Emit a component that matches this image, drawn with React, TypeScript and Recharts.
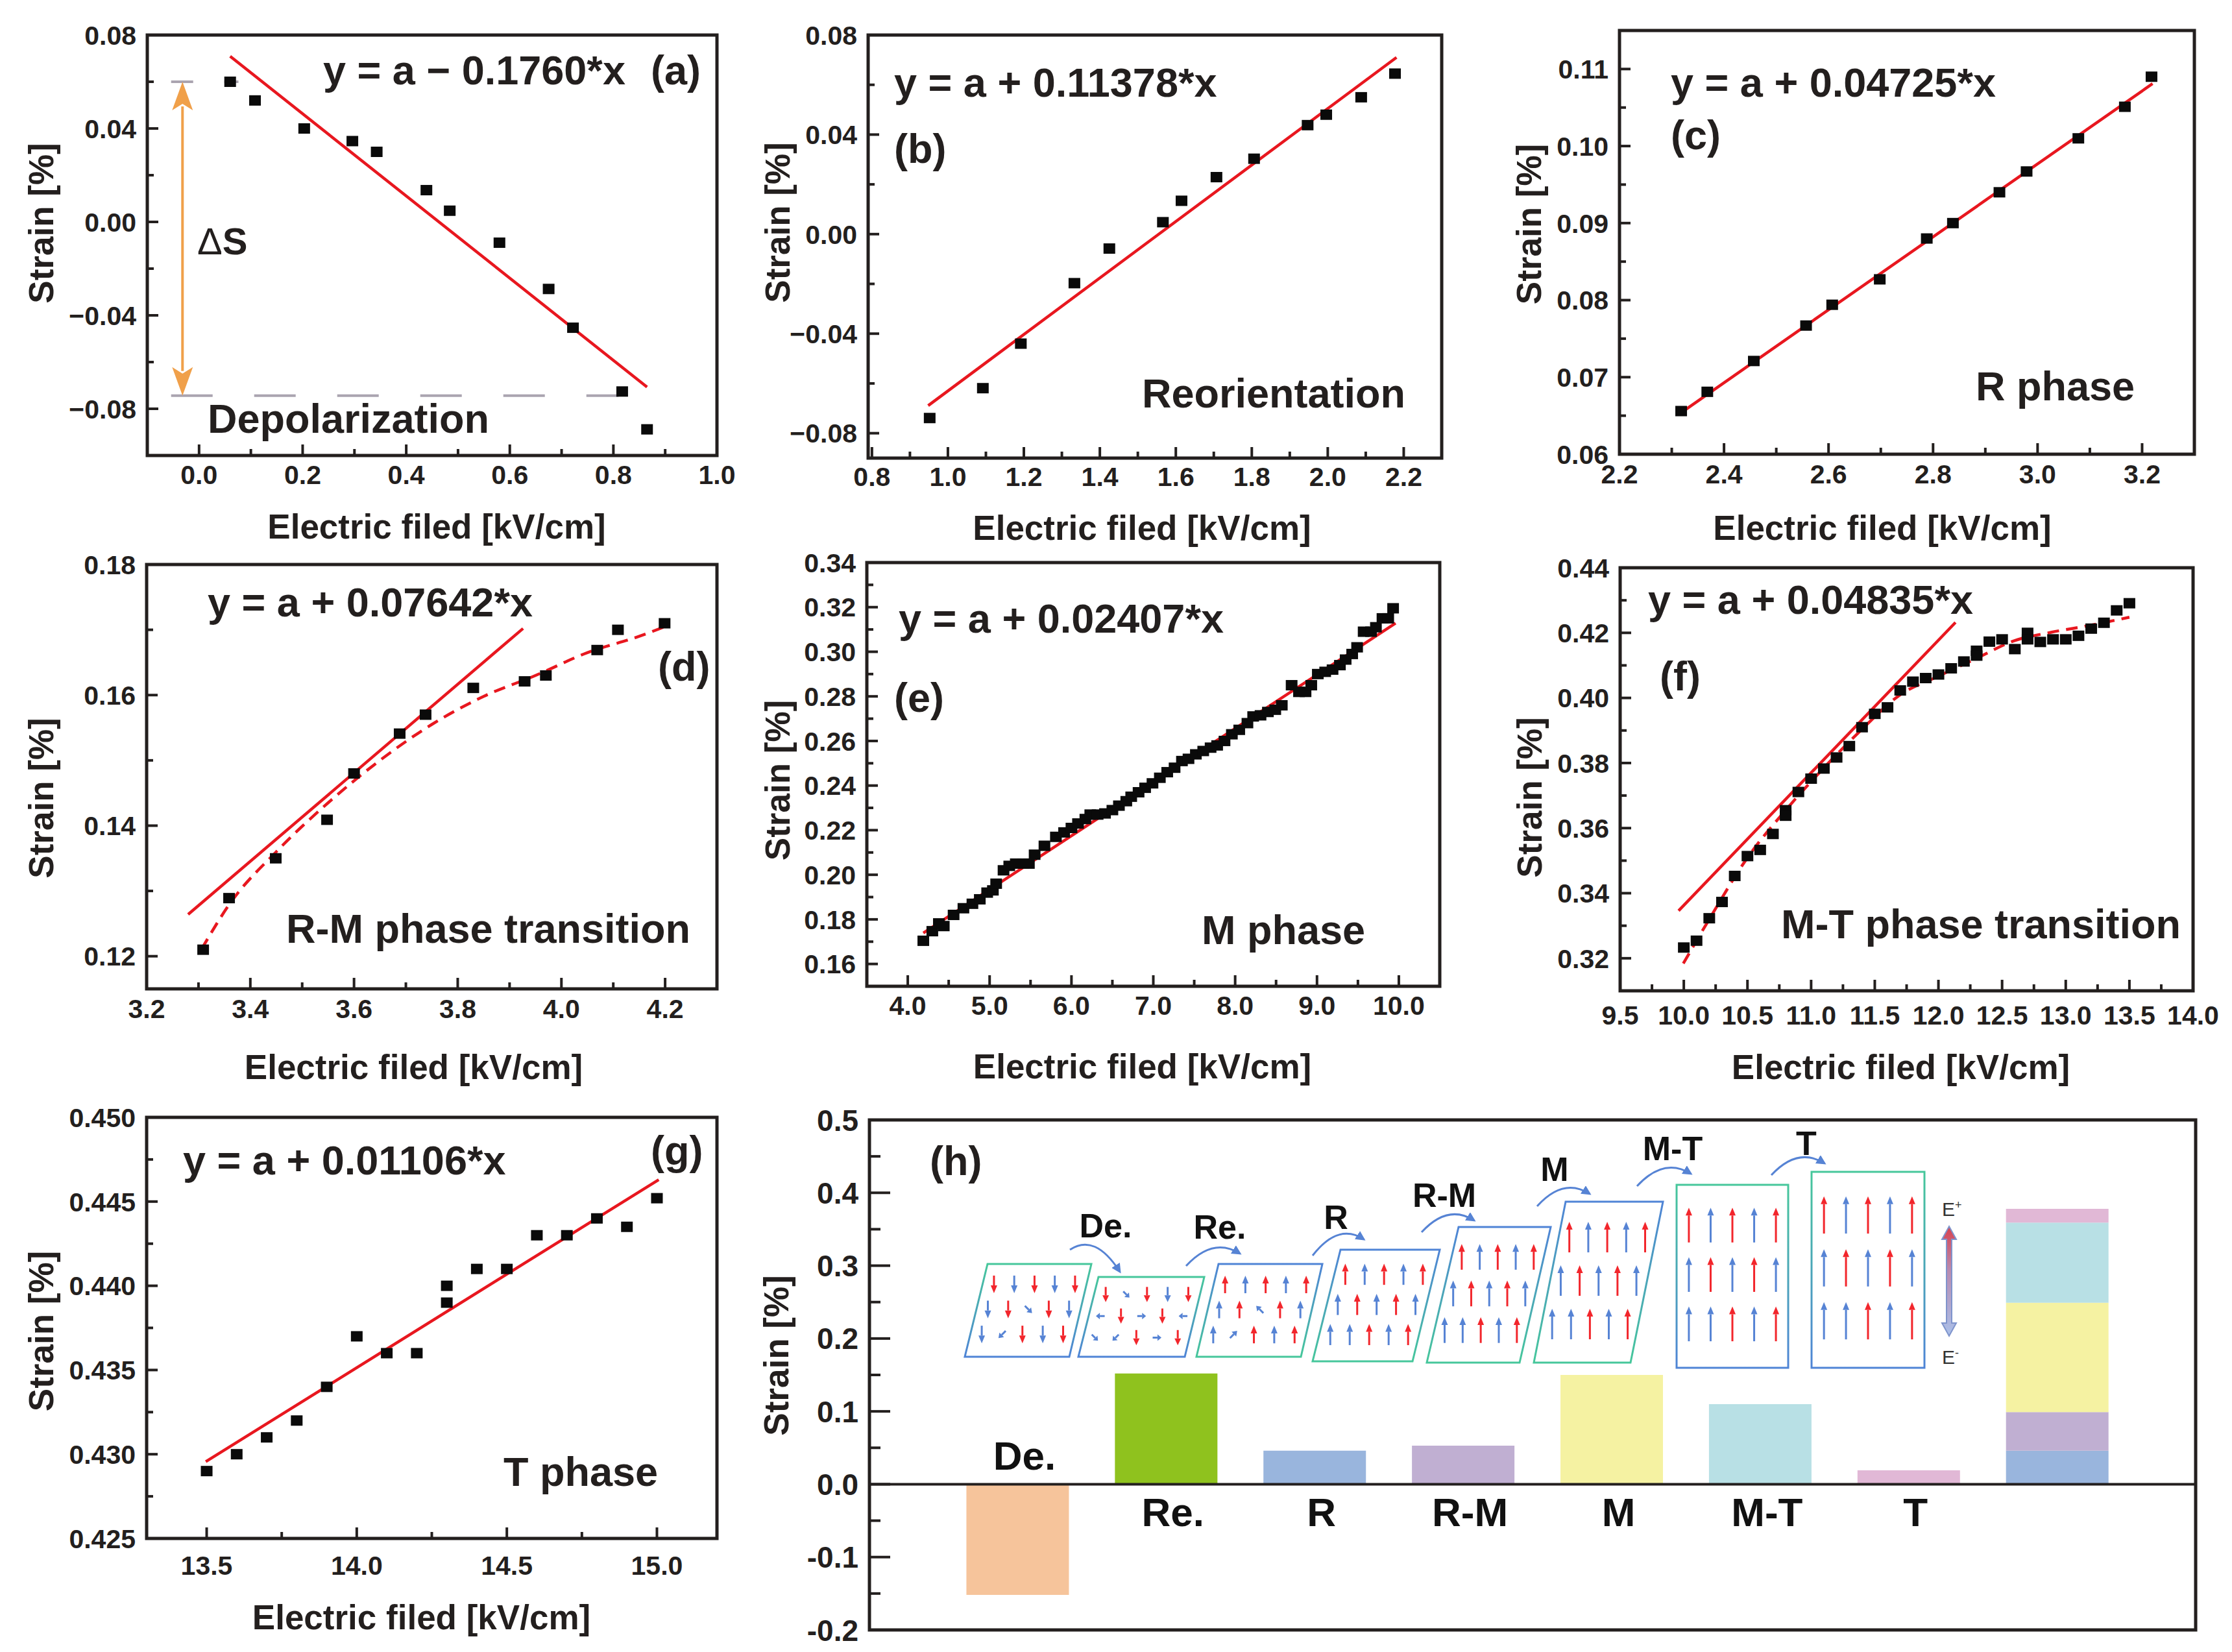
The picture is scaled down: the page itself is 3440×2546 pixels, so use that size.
import React from 'react';
import {
  ComposedChart, Scatter, Line, Bar, XAxis, YAxis,
  ReferenceArea, ReferenceLine, ReferenceDot,
} from 'recharts';

const FONT = '"Liberation Sans", Arial, Helvetica, sans-serif';
const INK = '#231f1e';
const RED = '#e8171f';
const ORANGE = '#f0a04a';
const GUIDE = '#aaa4b0';
const A_RED = '#f2262c';
const A_BLUE = '#5683d4';

// ---------- (a) depolarization ----------
const aField = [0.06, 0.108, 0.203, 0.296, 0.343, 0.439, 0.484, 0.58, 0.675, 0.722, 0.817, 0.865];
const aStrain = [0.06, 0.052, 0.04, 0.0346, 0.03, 0.0136, 0.0048, -0.0089, -0.0287, -0.0453, -0.0726, -0.0888];
const aFitField = [0.06, 0.865];
const aFitStrain = [0.0709, -0.0707];
const aLevels = [0.06, -0.0744]; // strain before / after depolarization
const aLevelEnds = [0.076, 0.81];
const aGuideStart = -0.054;
const aArrowField = -0.032;

// ---------- (b) reorientation ----------
const bField = [0.952, 1.092, 1.192, 1.333, 1.425, 1.566, 1.615, 1.707, 1.806, 1.947, 1.996, 2.088, 2.177];
const bStrain = [-0.0739, -0.0619, -0.044, -0.0197, -0.0058, 0.0048, 0.0134, 0.0229, 0.0303, 0.0438, 0.048, 0.055, 0.0645];
const bFitField = [0.948, 2.181];
const bFitStrain = [-0.0689, 0.071];

// ---------- (c) R phase ----------
const cField = [2.318, 2.368, 2.457, 2.557, 2.607, 2.698, 2.788, 2.838, 2.927, 2.979, 3.078, 3.167, 3.218];
const cStrain = [0.0656, 0.0681, 0.0721, 0.0767, 0.0794, 0.0827, 0.088, 0.09, 0.094, 0.0967, 0.101, 0.1051, 0.109];
const cFitField = [2.316, 3.22];
const cFitStrain = [0.0653, 0.1081];

// ---------- (d) R-M transition ----------
const dField = [3.309, 3.359, 3.449, 3.548, 3.6, 3.688, 3.738, 3.83, 3.929, 3.97, 4.069, 4.109, 4.199];
const dStrain = [0.121, 0.1289, 0.135, 0.1409, 0.148, 0.1541, 0.157, 0.1611, 0.1621, 0.163, 0.1669, 0.17, 0.171];
const dFitField = [3.28, 3.926];
const dFitStrain = [0.1264, 0.1702];
const dTrendField = [3.306, 3.36, 3.45, 3.55, 3.65, 3.75, 3.85, 3.95, 4.05, 4.15, 4.2];
const dTrendStrain = [0.1211, 0.128, 0.136, 0.1435, 0.15, 0.1555, 0.1598, 0.163, 0.1665, 0.169, 0.1705];

// ---------- (e) M phase ----------
const eField = [4.19, 4.3, 4.38, 4.44, 4.56, 4.68, 4.79, 4.88, 4.97, 5.04, 5.08, 5.17, 5.24, 5.32, 5.41, 5.48, 5.55, 5.67,
  5.81, 5.91, 6.0, 6.08, 6.17, 6.23, 6.32, 6.41, 6.5, 6.58, 6.67, 6.73, 6.82, 6.9, 6.99, 7.08, 7.17, 7.26, 7.35, 7.43,
  7.52, 7.61, 7.7, 7.78, 7.87, 7.96, 8.05, 8.15, 8.22, 8.31, 8.4, 8.49, 8.57, 8.69, 8.78, 8.86, 8.93, 9.01, 9.1, 9.19,
  9.28, 9.35, 9.43, 9.49, 9.57, 9.66, 9.72, 9.8, 9.87, 9.93];
const eStrain = [0.1704, 0.1747, 0.1782, 0.177, 0.182, 0.185, 0.187, 0.189, 0.192, 0.193, 0.196, 0.202, 0.204, 0.205,
  0.205, 0.205, 0.209, 0.213, 0.217, 0.219, 0.221, 0.223, 0.225, 0.227, 0.227, 0.2275, 0.229, 0.231, 0.233, 0.235,
  0.237, 0.239, 0.241, 0.2435, 0.246, 0.248, 0.251, 0.252, 0.254, 0.2555, 0.257, 0.258, 0.26, 0.263, 0.265, 0.268,
  0.271, 0.2715, 0.273, 0.274, 0.276, 0.285, 0.282, 0.282, 0.285, 0.29, 0.291, 0.292, 0.294, 0.2965, 0.299, 0.302,
  0.309, 0.309, 0.311, 0.315, 0.315, 0.3195];
const eFitField = [4.19, 9.96];
const eFitStrain = [0.1739, 0.3128];

// ---------- (f) M-T transition ----------
const fField = [10.0, 10.1, 10.2, 10.3, 10.4, 10.5, 10.6, 10.7, 10.8, 10.8, 10.9, 11.0, 11.1, 11.2, 11.3, 11.4, 11.5,
  11.6, 11.7, 11.8, 11.9, 12.0, 12.1, 12.2, 12.3, 12.3, 12.4, 12.5, 12.6, 12.7, 12.7, 12.8, 12.9, 13.0, 13.1, 13.2,
  13.3, 13.4, 13.5];
const fStrain = [0.3233, 0.3254, 0.3323, 0.3373, 0.3453, 0.3514, 0.3533, 0.3582, 0.3655, 0.3638, 0.3711, 0.3752,
  0.3783, 0.3817, 0.3852, 0.391, 0.3951, 0.3971, 0.4023, 0.405, 0.4061, 0.4072, 0.4091, 0.4112, 0.4145, 0.413, 0.4173,
  0.418, 0.415, 0.42, 0.418, 0.4172, 0.418, 0.418, 0.4191, 0.4213, 0.4231, 0.4269, 0.4291];
const fFitField = [9.959, 12.134];
const fFitStrain = [0.3346, 0.4232];
const fTrendField = [9.996, 10.2, 10.5, 10.8, 11.1, 11.4, 11.69, 12.0, 12.29, 12.59, 12.89, 13.19, 13.5];
const fTrendStrain = [0.3184, 0.332, 0.3509, 0.3655, 0.3785, 0.3904, 0.4007, 0.4067, 0.412, 0.4175, 0.4202, 0.4223, 0.4248];

// ---------- (g) T phase ----------
const gField = [13.5, 13.6, 13.7, 13.8, 13.9, 14.0, 14.1, 14.2, 14.3, 14.3, 14.4, 14.5, 14.6, 14.7, 14.8, 14.9, 15.0];
const gStrain = [0.429, 0.43, 0.431, 0.432, 0.434, 0.437, 0.436, 0.436, 0.44, 0.439, 0.441, 0.441, 0.443, 0.443, 0.444, 0.4435, 0.4452];
const gFitField = [13.497, 15.006];
const gFitStrain = [0.42956, 0.4463];

// ---------- (h) strain contributions ----------
const hPhases = ['De.', 'Re.', 'R', 'R-M', 'M', 'M-T', 'T'];
const hStrain = [-0.152, 0.152, 0.046, 0.053, 0.15, 0.11, 0.019];
const hColors = ['#f6c49b', '#8fc21e', '#99b5dd', '#c0afd2', '#f5f2a2', '#b8e0e5', '#e1b8d6'];
const hSummed = [2, 3, 4, 5, 6]; // phases stacked in the last column
const hYMajor = [-0.2, -0.1, 0, 0.1, 0.2, 0.3, 0.4, 0.5];
const hYMinor = [-0.15, -0.05, 0.05, 0.15, 0.25, 0.35, 0.45];

const zip = (xs: number[], ys: number[]) => xs.map((x, i) => ({ x, y: ys[i] }));

const YW = 200, XH = 170, MT = 50, MR = 70, MB = 10, ML = 10;

const fmt = (v: number, digits: number, minus = '\u2212') => (v < 0 ? minus : '') + Math.abs(v).toFixed(digits);
const isIn = (list: number[], v: number) => list.some((m) => Math.abs(m - v) < 1e-9);

function xTick(major: number[], digits: number, gap: number) {
  return (t: any) => {
    const v = t.payload.value;
    const big = isIn(major, v);
    return (
      <g>
        <line x1={t.x} x2={t.x} y1={t.y} y2={t.y - (big ? 17 : 10)} stroke={INK} strokeWidth={4} />
        {big && (
          <text x={t.x} y={t.y + gap} textAnchor="middle" fontFamily={FONT} fontWeight={700} fontSize={41} fill={INK}>
            {fmt(v, digits)}
          </text>
        )}
      </g>
    );
  };
}

function yTick(major: number[], digits: number, size = 41, majLen = 17, minLen = 10, minus = '\u2212') {
  return (t: any) => {
    const v = t.payload.value;
    const big = isIn(major, v);
    return (
      <g>
        <line x1={t.x} x2={t.x + (big ? majLen : minLen)} y1={t.y} y2={t.y} stroke={INK} strokeWidth={4} />
        {big && (
          <text x={t.x - 17} y={t.y + size * 0.36} textAnchor="end" fontFamily={FONT} fontWeight={700} fontSize={size} fill={INK}>
            {fmt(v, digits, minus)}
          </text>
        )}
      </g>
    );
  };
}

const xTitle = (dx: number, base: number) => (l: any) => {
  const vb = l.viewBox;
  return (
    <text x={vb.x + vb.width / 2 + dx} y={vb.y + base} textAnchor="middle" fontFamily={FONT} fontWeight={700} fontSize={53} fill={INK}>
      Electric filed [kV/cm]
    </text>
  );
};

const yTitle = (left: number, dy: number) => (l: any) => {
  const vb = l.viewBox;
  const cx = vb.x + vb.width - left;
  const cy = vb.y + vb.height / 2 + dy;
  return (
    <text x={cx} y={cy} dy={19} transform={`rotate(-90 ${cx} ${cy})`} textAnchor="middle" fontFamily={FONT} fontWeight={700} fontSize={53} fill={INK}>
      Strain [%]
    </text>
  );
};

const square = (p: any) => <rect x={p.cx - 9} y={p.cy - 8} width={18} height={16} fill="#0a0a0a" />;

type Box = { x0: number; y0: number; x1: number; y1: number };
type XY = { x: number; y: number };

interface PanelProps {
  box: Box;
  xDomain: [number, number]; xMajor: number[]; xMinor: number[]; xDigits: number;
  yDomain: [number, number]; yMajor: number[]; yMinor: number[]; yDigits: number;
  points: XY[]; fit: XY[]; trend?: XY[];
  xGap: number; xBase: number; xDx: number; yLeft: number; yDy: number;
  children?: React.ReactNode;
}

function Panel(p: PanelProps) {
  const w = p.box.x1 - p.box.x0;
  const h = p.box.y1 - p.box.y0;
  const W = ML + YW + w + MR;
  const H = MT + h + XH + MB;
  const xt = [...p.xMajor, ...p.xMinor].sort((a, b) => a - b);
  const yt = [...p.yMajor, ...p.yMinor].sort((a, b) => a - b);
  return (
    <div style={{ position: 'absolute', left: p.box.x0 - YW - ML, top: p.box.y0 - MT, width: W, height: H }}>
      <ComposedChart width={W} height={H} margin={{ top: MT, right: MR, bottom: MB, left: ML }}>
        <XAxis type="number" dataKey="x" domain={p.xDomain} allowDataOverflow ticks={xt} interval={0}
          tickSize={0} tickMargin={0} tickLine={false} axisLine={false} height={XH}
          tick={xTick(p.xMajor, p.xDigits, p.xGap)} label={xTitle(p.xDx, p.xBase)} />
        <YAxis type="number" domain={p.yDomain} allowDataOverflow ticks={yt} interval={0}
          tickSize={0} tickMargin={0} tickLine={false} axisLine={false} width={YW}
          tick={yTick(p.yMajor, p.yDigits)} label={yTitle(p.yLeft, p.yDy)} />
        {p.children}
        <Line data={p.fit} dataKey="y" type="linear" stroke={RED} strokeWidth={4.5} dot={false} isAnimationActive={false} />
        {p.trend && (
          <Line data={p.trend} dataKey="y" type="monotone" stroke={RED} strokeWidth={4.5} strokeDasharray="18 11"
            dot={false} isAnimationActive={false} />
        )}
        <Scatter data={p.points} dataKey="y" shape={square} isAnimationActive={false} />
        <ReferenceArea x1={p.xDomain[0]} x2={p.xDomain[1]} y1={p.yDomain[0]} y2={p.yDomain[1]}
          fill="none" stroke={INK} strokeWidth={5} ifOverflow="visible" />
      </ComposedChart>
    </div>
  );
}

const deltaArrow = (l: any) => {
  const x = l.x1;
  const top = Math.min(l.y1, l.y2);
  const bot = Math.max(l.y1, l.y2);
  const hl = 44, hw = 16;
  return (
    <g>
      <line x1={x} x2={x} y1={top + hl - 6} y2={bot - hl + 6} stroke={ORANGE} strokeWidth={4} />
      <polygon points={`${x},${top} ${x - hw},${top + hl} ${x},${top + hl - 10} ${x + hw},${top + hl}`} fill={ORANGE} />
      <polygon points={`${x},${bot} ${x - hw},${bot - hl} ${x},${bot - hl + 10} ${x + hw},${bot - hl}`} fill={ORANGE} />
    </g>
  );
};

const barName = (name: string) => (l: any) => (
  <text x={l.viewBox.x + 10} y={l.viewBox.y + 22} textAnchor="middle" fontFamily={FONT} fontWeight={700} fontSize={62} fill="#111">
    {name}
  </text>
);

function PanelH() {
  const box = { x0: 1340, y0: 1726, x1: 3384, y1: 2512 };
  const w = box.x1 - box.x0, h = box.y1 - box.y0;
  const W = ML + YW + w + 40, H = MT + h + 30;
  const rows = [
    ...hPhases.map((_, i) => {
      const r: Record<string, number> = { pos: i + 1 };
      hPhases.forEach((__, k) => { r['p' + k] = k === i ? hStrain[k] : 0; });
      return r;
    }),
    (() => {
      const r: Record<string, number> = { pos: 8 };
      hPhases.forEach((__, k) => { r['p' + k] = hSummed.includes(k) ? hStrain[k] : 0; });
      return r;
    })(),
  ];
  const stackOrder = [...hSummed, 0, 1];
  const yt = [...hYMajor, ...hYMinor].sort((a, b) => a - b);
  return (
    <div style={{ position: 'absolute', left: box.x0 - YW - ML, top: box.y0 - MT, width: W, height: H }}>
      <ComposedChart width={W} height={H} data={rows} margin={{ top: MT, right: 40, bottom: 30, left: ML }}>
        <XAxis type="number" dataKey="pos" domain={[0, 8.93]} allowDataOverflow hide />
        <YAxis type="number" domain={[-0.2, 0.5]} allowDataOverflow ticks={yt} interval={0}
          tickSize={0} tickMargin={0} tickLine={false} axisLine={false} width={YW}
          tick={yTick(hYMajor, 1, 46, 32, 17, '-')} label={yTitle(144, -30)} />
        {stackOrder.map((k) => (
          <Bar key={k} dataKey={'p' + k} stackId="s" fill={hColors[k]} barSize={158} isAnimationActive={false} />
        ))}
        <ReferenceLine y={0} stroke={INK} strokeWidth={4} />
        {hPhases.map((name, i) => (
          <ReferenceDot key={name} x={i + 1} y={hStrain[i] < 0 ? 0.04 : -0.038} r={0} fill="none" stroke="none"
            label={barName(name)} />
        ))}
        <ReferenceArea x1={0} x2={8.93} y1={-0.2} y2={0.5} fill="none" stroke={INK} strokeWidth={5} ifOverflow="visible" />
      </ComposedChart>
    </div>
  );
}

// ---------- texts written on the panels (page coordinates) ----------
const notes: { t: string; x: number; y: number }[] = [
  { t: 'y = a \u2212 0.1760*x', x: 498, y: 130 }, { t: '(a)', x: 1003, y: 130 },
  { t: 'Depolarization', x: 320, y: 667 },
  { t: 'y = a + 0.11378*x', x: 1378, y: 149 }, { t: '(b)', x: 1378, y: 251 },
  { t: 'Reorientation', x: 1760, y: 628 },
  { t: 'y = a + 0.04725*x', x: 2575, y: 149 }, { t: '(c)', x: 2575, y: 230 },
  { t: 'R phase', x: 3045, y: 617 },
  { t: 'y = a + 0.07642*x', x: 320, y: 950 }, { t: '(d)', x: 1014, y: 1049 },
  { t: 'R-M phase transition', x: 441, y: 1453 },
  { t: 'y = a + 0.02407*x', x: 1385, y: 975 }, { t: '(e)', x: 1378, y: 1097 },
  { t: 'M phase', x: 1852, y: 1455 },
  { t: 'y = a + 0.04835*x', x: 2540, y: 946 }, { t: '(f)', x: 2558, y: 1064 },
  { t: 'M-T phase transition', x: 2745, y: 1446 },
  { t: 'y = a + 0.01106*x', x: 282, y: 1810 }, { t: '(g)', x: 1003, y: 1795 },
  { t: 'T phase', x: 776, y: 2290 },
  { t: '(h)', x: 1433, y: 1811 },
];

// ---------- (h) domain sketch ----------
type Pt = [number, number];
const upRows = ['Ru Bu Ru Bu Ru', 'Bu Ru Bu Ru Bu', 'Bu Bu Ru Bu Ru'];
const cells: { tl: Pt; tr: Pt; bl: Pt; br: Pt; grad: string; rows: string[] }[] = [
  { tl: [1522, 1948], tr: [1682, 1948], bl: [1487, 2091], br: [1648, 2091], grad: 'gGB', rows: ['Rd Bd Rd Bd Rd', 'Bd Rd Bdr Rd Bd', 'Bd Bdl Rd Bd Rd'] },
  { tl: [1693, 1968], tr: [1856, 1968], bl: [1662, 2091], br: [1826, 2091], grad: 'gGB', rows: ['Rd Bdr Rd Bd Rd', 'Bl Rd Br Rd Bl', 'Bdr Bdl Rd Br Rd'] },
  { tl: [1878, 1948], tr: [2038, 1948], bl: [1844, 2091], br: [2005, 2091], grad: 'gBG', rows: ['Ru Bu Ru Bu Ru', 'Bu Ru Bul Ru Bu', 'Bu Bur Ru Bu Ru'] },
  { tl: [2066, 1926], tr: [2219, 1926], bl: [2023, 2098], br: [2177, 2098], grad: 'gBG', rows: upRows },
  { tl: [2248, 1891], tr: [2390, 1891], bl: [2199, 2100], br: [2342, 2100], grad: 'gBG', rows: upRows },
  { tl: [2413, 1852], tr: [2563, 1852], bl: [2364, 2100], br: [2513, 2100], grad: 'gBG', rows: upRows },
  { tl: [2584, 1826], tr: [2756, 1826], bl: [2584, 2108], br: [2756, 2108], grad: 'gGB', rows: upRows },
  { tl: [2792, 1806], tr: [2966, 1806], bl: [2792, 2108], br: [2966, 2108], grad: 'gGB', rows: upRows },
];
const ANG: Record<string, number> = { u: 0, ur: 45, r: 90, dr: 135, d: 180, dl: 225, l: 270, ul: 315 };
const COLS = [0.11, 0.305, 0.5, 0.695, 0.89];
const ROWS = [0.22, 0.49, 0.76];
const hops: [Pt, Pt][] = [
  [[1649, 1926], [1726, 1960]], [[1828, 1951], [1911, 1932]], [[2023, 1935], [2102, 1910]],
  [[2191, 1899], [2272, 1881]], [[2369, 1859], [2450, 1840]], [[2523, 1828], [2606, 1809]],
  [[2730, 1811], [2812, 1793]],
];
const hopLabels: { t: string; x: number; y: number }[] = [
  { t: 'De.', x: 1704, y: 1907 }, { t: 'Re.', x: 1880, y: 1909 }, { t: 'R', x: 2059, y: 1894 },
  { t: 'R-M', x: 2226, y: 1860 }, { t: 'M', x: 2396, y: 1820 }, { t: 'M-T', x: 2578, y: 1788 },
  { t: 'T', x: 2784, y: 1780 },
];

const lerp = (a: Pt, b: Pt, t: number): Pt => [a[0] + (b[0] - a[0]) * t, a[1] + (b[1] - a[1]) * t];

function Dipole({ c, ang, len, color }: { c: Pt; ang: number; len: number; color: string }) {
  const r = (ang * Math.PI) / 180;
  const dx = Math.sin(r), dy = -Math.cos(r);
  const hl = Math.min(12, len * 0.45), hw = 5;
  const tip: Pt = [c[0] + (dx * len) / 2, c[1] + (dy * len) / 2];
  const tail: Pt = [c[0] - (dx * len) / 2, c[1] - (dy * len) / 2];
  const base: Pt = [tip[0] - dx * hl, tip[1] - dy * hl];
  const nx = -dy, ny = dx;
  return (
    <g>
      <line x1={tail[0]} y1={tail[1]} x2={base[0]} y2={base[1]} stroke={color} strokeWidth={3} />
      <polygon points={`${tip[0]},${tip[1]} ${base[0] + nx * hw},${base[1] + ny * hw} ${base[0] - nx * hw},${base[1] - ny * hw}`} fill={color} />
    </g>
  );
}

function Overlay() {
  const ex = 3004, et = 1890, eb = 2059;
  return (
    <svg width={3440} height={2546} style={{ position: 'absolute', left: 0, top: 0, pointerEvents: 'none' }}>
      <defs>
        <linearGradient id="gGB" x1="0" y1="0" x2="0" y2="1">
          <stop offset="0" stopColor="#46c79b" /><stop offset="1" stopColor="#4f84d6" />
        </linearGradient>
        <linearGradient id="gBG" x1="0" y1="0" x2="0" y2="1">
          <stop offset="0" stopColor="#4f84d6" /><stop offset="1" stopColor="#46c79b" />
        </linearGradient>
        <linearGradient id="gE" x1="0" y1="0" x2="0" y2="1">
          <stop offset="0" stopColor="#d9414f" /><stop offset="0.4" stopColor="#b98bb0" /><stop offset="1" stopColor="#a9c0ea" />
        </linearGradient>
        <marker id="hopHead" viewBox="0 0 10 10" refX="8" refY="5" markerWidth="5" markerHeight="5" orient="auto">
          <path d="M0,0 L10,5 L0,10 z" fill={A_BLUE} />
        </marker>
      </defs>

      {notes.map((n) => (
        <text key={n.t + n.x} x={n.x} y={n.y} fontFamily={FONT} fontWeight={700} fontSize={63} fill={INK}>{n.t}</text>
      ))}
      <text x={304} y={392} fontFamily={FONT} fontSize={58} fill={INK}>
        {'\u0394'}<tspan fontWeight={700}>S</tspan>
      </text>

      {cells.map((cell, ci) => {
        const hgt = cell.bl[1] - cell.tl[1];
        return (
          <g key={ci}>
            <polygon points={[cell.tl, cell.tr, cell.br, cell.bl].map((p) => p.join(',')).join(' ')}
              fill="#fff" stroke={`url(#${cell.grad})`} strokeWidth={3} />
            {cell.rows.map((row, ri) => row.split(' ').map((tok, k) => {
              const top = lerp(cell.tl, cell.tr, COLS[k]);
              const bot = lerp(cell.bl, cell.br, COLS[k]);
              const c = lerp(top, bot, ROWS[ri]);
              const dir = tok.slice(1);
              const straight = dir === 'u' || dir === 'd';
              return (
                <Dipole key={`${ri}-${k}`} c={c} ang={ANG[dir]} len={hgt * (straight ? 0.19 : 0.11)}
                  color={tok[0] === 'R' ? A_RED : A_BLUE} />
              );
            }))}
          </g>
        );
      })}

      {hops.map(([s, e], i) => {
        const cx = (s[0] + e[0]) / 2;
        const cy = Math.min(s[1], e[1]) - 26;
        return (
          <path key={i} d={`M${s[0]},${s[1]} Q${cx},${cy} ${e[0]},${e[1]}`} fill="none" stroke={A_BLUE}
            strokeWidth={3} markerEnd="url(#hopHead)" />
        );
      })}
      {hopLabels.map((l) => (
        <text key={l.t} x={l.x} y={l.y} textAnchor="middle" fontFamily={FONT} fontWeight={700} fontSize={52} fill="#111">{l.t}</text>
      ))}

      <polygon
        points={`${ex},${et} ${ex + 11},${et + 20} ${ex + 4},${et + 20} ${ex + 4},${eb - 20} ${ex + 11},${eb - 20} ${ex},${eb} ${ex - 11},${eb - 20} ${ex - 4},${eb - 20} ${ex - 4},${et + 20} ${ex - 11},${et + 20}`}
        fill="url(#gE)" stroke="#7f94cc" strokeWidth={2} />
      <text x={2993} y={1874} fontFamily={FONT} fontSize={30} fill="#333">E<tspan dy={-11} fontSize={18}>+</tspan></text>
      <text x={2993} y={2102} fontFamily={FONT} fontSize={30} fill="#333">E<tspan dy={-11} fontSize={18}>-</tspan></text>
    </svg>
  );
}

export default function App() {
  React.useEffect(() => {
    document.body.style.margin = '0';
    document.body.style.overflow = 'hidden';
  }, []);
  return (
    <div style={{ position: 'absolute', left: 0, top: 0, width: 3440, height: 2546, background: '#fff', overflow: 'hidden' }}>
      <Panel box={{ x0: 227, y0: 54, x1: 1105, y1: 702 }}
        xDomain={[-0.1, 1.0]} xMajor={[0, 0.2, 0.4, 0.6, 0.8, 1.0]} xMinor={[0.1, 0.3, 0.5, 0.7, 0.9]} xDigits={1}
        yDomain={[-0.1, 0.08]} yMajor={[-0.08, -0.04, 0, 0.04, 0.08]} yMinor={[-0.06, -0.02, 0.02, 0.06]} yDigits={2}
        points={zip(aField, aStrain)} fit={zip(aFitField, aFitStrain)}
        xGap={44} xBase={128} xDx={7} yLeft={164} yDy={-34}>
        <ReferenceLine segment={[{ x: aGuideStart, y: aLevels[0] }, { x: aLevelEnds[0], y: aLevels[0] }]}
          stroke={GUIDE} strokeWidth={4} strokeDasharray="34 48" />
        <ReferenceLine segment={[{ x: aGuideStart, y: aLevels[1] }, { x: aLevelEnds[1], y: aLevels[1] }]}
          stroke={GUIDE} strokeWidth={4} strokeDasharray="64 64" />
        <ReferenceLine segment={[{ x: aArrowField, y: aLevels[0] }, { x: aArrowField, y: aLevels[1] }]}
          stroke={ORANGE} shape={deltaArrow} />
      </Panel>

      <Panel box={{ x0: 1338, y0: 54, x1: 2222, y1: 706 }}
        xDomain={[0.79, 2.3]} xMajor={[0.8, 1.0, 1.2, 1.4, 1.6, 1.8, 2.0, 2.2]} xMinor={[0.9, 1.1, 1.3, 1.5, 1.7, 1.9, 2.1]} xDigits={1}
        yDomain={[-0.09, 0.08]} yMajor={[-0.08, -0.04, 0, 0.04, 0.08]} yMinor={[-0.06, -0.02, 0.02, 0.06]} yDigits={2}
        points={zip(bField, bStrain)} fit={zip(bFitField, bFitStrain)}
        xGap={43} xBase={126} xDx={-20} yLeft={140} yDy={-37} />

      <Panel box={{ x0: 2496, y0: 47, x1: 3382, y1: 700 }}
        xDomain={[2.2, 3.3]} xMajor={[2.2, 2.4, 2.6, 2.8, 3.0, 3.2]} xMinor={[2.3, 2.5, 2.7, 2.9, 3.1]} xDigits={1}
        yDomain={[0.06, 0.115]} yMajor={[0.06, 0.07, 0.08, 0.09, 0.1, 0.11]} yMinor={[0.065, 0.075, 0.085, 0.095, 0.105]} yDigits={2}
        points={zip(cField, cStrain)} fit={zip(cFitField, cFitStrain)}
        xGap={45} xBase={132} xDx={-38} yLeft={140} yDy={-28} />

      <Panel box={{ x0: 226, y0: 870, x1: 1105, y1: 1524 }}
        xDomain={[3.2, 4.3]} xMajor={[3.2, 3.4, 3.6, 3.8, 4.0, 4.2]} xMinor={[3.3, 3.5, 3.7, 3.9, 4.1]} xDigits={1}
        yDomain={[0.115, 0.18]} yMajor={[0.12, 0.14, 0.16, 0.18]} yMinor={[0.13, 0.15, 0.17]} yDigits={2}
        points={zip(dField, dStrain)} fit={zip(dFitField, dFitStrain)} trend={zip(dTrendField, dTrendStrain)}
        xGap={45} xBase={139} xDx={-28} yLeft={163} yDy={33} />

      <Panel box={{ x0: 1336, y0: 867, x1: 2219, y1: 1520 }}
        xDomain={[3.5, 10.5]} xMajor={[4, 5, 6, 7, 8, 9, 10]} xMinor={[4.5, 5.5, 6.5, 7.5, 8.5, 9.5]} xDigits={1}
        yDomain={[0.15, 0.34]} yMajor={[0.16, 0.18, 0.2, 0.22, 0.24, 0.26, 0.28, 0.3, 0.32, 0.34]}
        yMinor={[0.17, 0.19, 0.21, 0.23, 0.25, 0.27, 0.29, 0.31, 0.33]} yDigits={2}
        points={zip(eField, eStrain)} fit={zip(eFitField, eFitStrain)}
        xGap={44} xBase={142} xDx={-17} yLeft={138} yDy={9} />

      <Panel box={{ x0: 2497, y0: 875, x1: 3380, y1: 1527 }}
        xDomain={[9.5, 14]} xMajor={[9.5, 10, 10.5, 11, 11.5, 12, 12.5, 13, 13.5, 14]}
        xMinor={[9.75, 10.25, 10.75, 11.25, 11.75, 12.25, 12.75, 13.25, 13.75]} xDigits={1}
        yDomain={[0.31, 0.44]} yMajor={[0.32, 0.34, 0.36, 0.38, 0.4, 0.42, 0.44]} yMinor={[0.33, 0.35, 0.37, 0.39, 0.41, 0.43]} yDigits={2}
        points={zip(fField, fStrain)} fit={zip(fFitField, fFitStrain)} trend={zip(fTrendField, fTrendStrain)}
        xGap={52} xBase={136} xDx={-9} yLeft={140} yDy={28} />

      <Panel box={{ x0: 226, y0: 1722, x1: 1105, y1: 2371 }}
        xDomain={[13.3, 15.2]} xMajor={[13.5, 14, 14.5, 15]} xMinor={[13.75, 14.25, 14.75]} xDigits={1}
        yDomain={[0.425, 0.45]} yMajor={[0.425, 0.43, 0.435, 0.44, 0.445, 0.45]} yMinor={[0.4275, 0.4325, 0.4375, 0.4425, 0.4475]} yDigits={3}
        points={zip(gField, gStrain)} fit={zip(gFitField, gFitStrain)}
        xGap={56} xBase={140} xDx={-16} yLeft={163} yDy={5} />

      <PanelH />
      <Overlay />
    </div>
  );
}
